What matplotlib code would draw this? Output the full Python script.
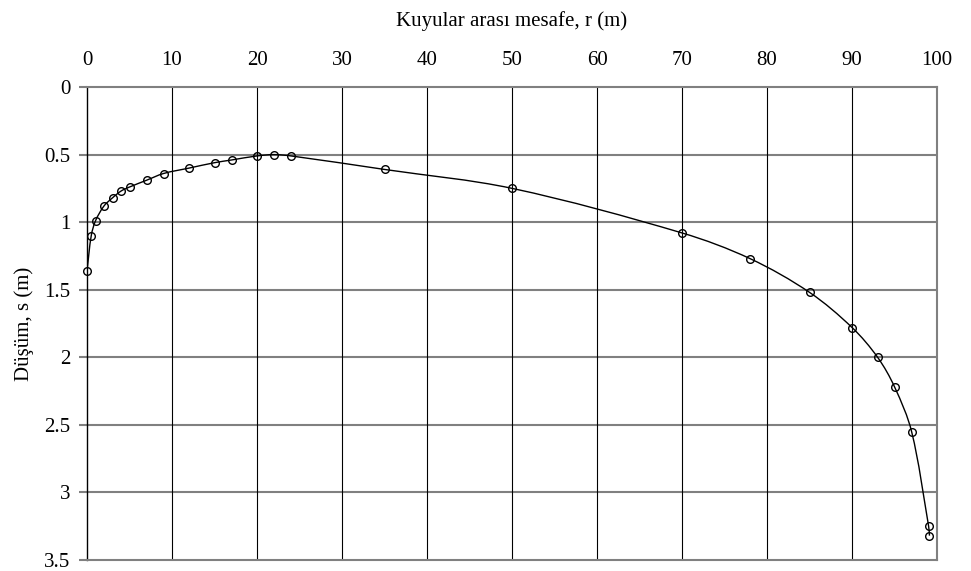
import numpy as np
import matplotlib.pyplot as plt
from matplotlib.path import Path
from matplotlib.patches import PathPatch

plt.rcParams['font.family'] = ['Liberation Serif', 'DejaVu Serif']

# distance between wells (m) and drawdown (m)
r = [0, 0.5, 1, 2, 3, 4, 5, 7, 9, 12, 15, 17, 20, 22, 24, 35, 50, 70, 78, 85, 90, 93, 95, 97, 99, 99.1]
s = [1.36, 1.10, 0.99, 0.88, 0.82, 0.77, 0.74, 0.69, 0.64, 0.60, 0.56, 0.54, 0.51, 0.50, 0.51,
     0.61, 0.75, 1.08, 1.27, 1.52, 1.78, 2.00, 2.22, 2.55, 3.25, 3.32]

xticks = [0, 10, 20, 30, 40, 50, 60, 70, 80, 90, 100]
yticks = [0, 0.5, 1, 1.5, 2, 2.5, 3, 3.5]
yticklabels = ['0', '0.5', '1', '1.5', '2', '2.5', '3', '3.5']


def smooth_path(x, y, sx, sy):
    # smoothed line through the points (chord-length scaled tangents)
    p = np.column_stack([np.asarray(x, float) * sx, np.asarray(y, float) * sy])
    n = len(p)
    d = np.hypot(*np.diff(p, axis=0).T)
    tang = np.zeros_like(p)
    tang[0] = (p[1] - p[0]) / d[0]
    tang[-1] = (p[-1] - p[-2]) / d[-1]
    for i in range(1, n - 1):
        tang[i] = (p[i+1] - p[i-1]) / (d[i-1] + d[i])
    verts = [p[0]]
    codes = [Path.MOVETO]
    for i in range(n - 1):
        verts += [p[i] + tang[i] * d[i] / 3, p[i+1] - tang[i+1] * d[i] / 3, p[i+1]]
        codes += [Path.CURVE4] * 3
    verts = np.array(verts) / [sx, sy]
    return Path(verts, codes)


fig = plt.figure(figsize=(9.71, 5.71), dpi=100)
ax = fig.add_axes([0.0896, 0.0193, 0.8755, 0.8283])

ax.add_patch(PathPatch(smooth_path(r, s, 8.5, 135), fill=False, edgecolor='black', lw=1.0, zorder=3))
ax.plot(r, s, linestyle='none', marker='o', markersize=5.5, markerfacecolor='none',
        markeredgecolor='black', markeredgewidth=1.0, zorder=4, clip_on=False)

ax.set_xlim(0, 100)
ax.set_ylim(3.5, 0)
ax.xaxis.tick_top()
ax.xaxis.set_label_position('top')
ax.set_xticks(xticks)
ax.set_yticks(yticks)
ax.set_yticklabels(yticklabels)
ax.tick_params(axis='x', length=0, pad=12, labelsize=15)
ax.tick_params(axis='y', length=6, width=1.5, color='#808080', pad=6, labelsize=15)

for y in yticks[1:-1]:
    ax.axhline(y, color='#808080', lw=1.5, zorder=1)
for x in xticks[1:-1]:
    ax.axvline(x, color='black', lw=0.8, zorder=1)

for side in ['top', 'bottom', 'right']:
    ax.spines[side].set_color('#808080')
    ax.spines[side].set_linewidth(1.5)
ax.spines['left'].set_color('black')
ax.spines['left'].set_linewidth(1.0)

ax.set_xlabel('Kuyular arası mesafe, r (m)', fontsize=15, labelpad=18)
ax.set_ylabel('Düşüm, s (m)', fontsize=15, labelpad=7)

fig.savefig('out.png', dpi=100)
